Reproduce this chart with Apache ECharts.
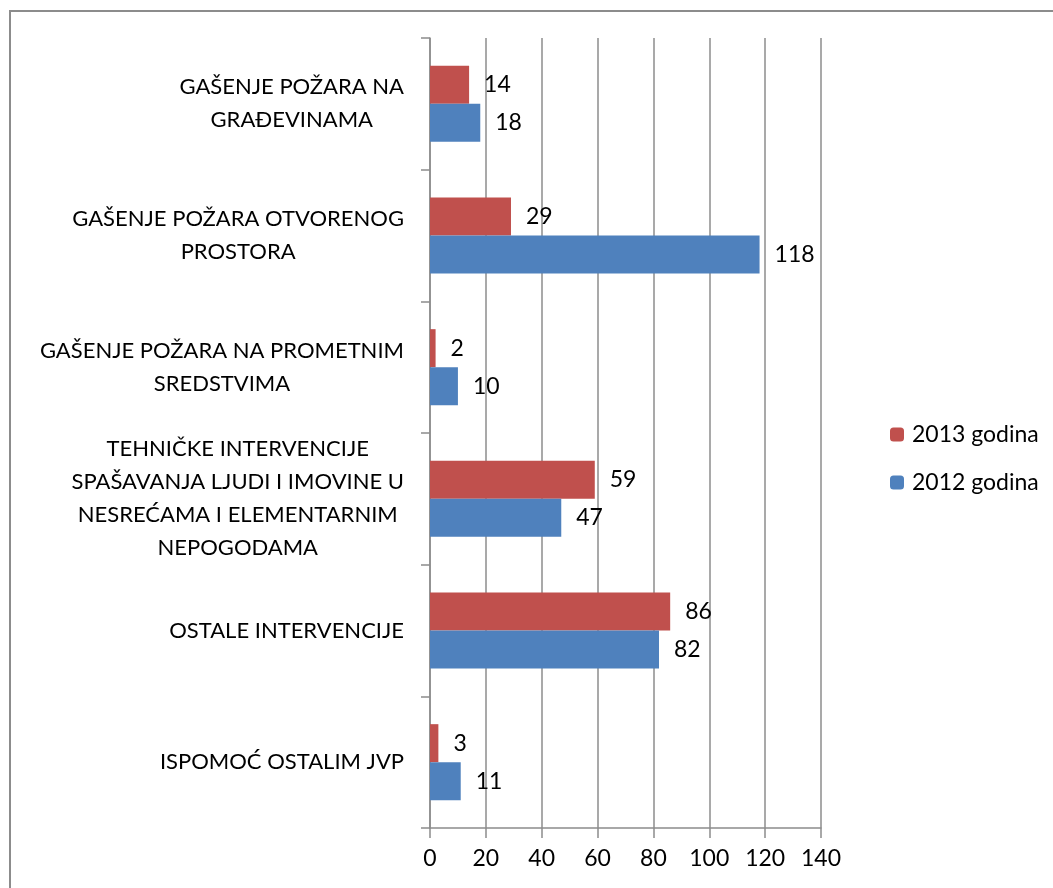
<!DOCTYPE html>
<html>
<head>
<meta charset="utf-8">
<script src="https://cdn.jsdelivr.net/npm/echarts@6/dist/echarts.min.js"></script>
<style>
html,body{margin:0;padding:0;background:#fff;}
#chart{width:1053px;height:888px;}
</style>
</head>
<body>
<div id="chart"></div>
<script>
const categories = [
  'GAŠENJE POŽARA NA\nGRAĐEVINAMA',
  'GAŠENJE POŽARA OTVORENOG\nPROSTORA',
  'GAŠENJE POŽARA NA PROMETNIM\nSREDSTVIMA',
  'TEHNIČKE INTERVENCIJE\nSPAŠAVANJA LJUDI I IMOVINE U\nNESREĆAMA I ELEMENTARNIM\nNEPOGODAMA',
  'OSTALE INTERVENCIJE',
  'ISPOMOĆ OSTALIM JVP'
];
const series2013Name = '2013 godina';
const series2012Name = '2012 godina';
const values2013 = [14, 29, 2, 59, 86, 3];
const values2012 = [18, 118, 10, 47, 82, 11];
const xTicks = { min: 0, max: 140, interval: 20 };

const FONT = 'Lato, "Open Sans", sans-serif';
const chart = echarts.init(document.getElementById('chart'));
const labelStyle = {
  show: true, position: 'right', distance: 15,
  color: '#000', fontSize: 23, fontFamily: FONT
};
chart.setOption({
  animation: false,
  textStyle: { fontFamily: FONT },
  graphic: [{
    type: 'rect', silent: true,
    shape: { x: 10, y: 11, width: 1100, height: 900 },
    style: { fill: 'none', stroke: '#8c8c8c', lineWidth: 2 }
  }],
  legend: {
    orient: 'vertical', left: 885, top: 418,
    itemWidth: 14, itemHeight: 14, itemGap: 25,
    textStyle: { fontSize: 23, color: '#000', fontFamily: FONT, padding: [0, 0, 0, 3] },
    data: [series2013Name, series2012Name]
  },
  grid: { left: 430, top: 38, right: 232, bottom: 60, containLabel: false },
  xAxis: {
    type: 'value', min: xTicks.min, max: xTicks.max, interval: xTicks.interval,
    axisLine: { show: true, lineStyle: { color: '#8c8c8c', width: 1.5 } },
    axisTick: { show: true, length: 10, lineStyle: { color: '#8c8c8c', width: 1.5 } },
    splitLine: { show: true, lineStyle: { color: '#8c8c8c', width: 1.5 } },
    axisLabel: { color: '#000', fontSize: 23, fontFamily: FONT, margin: 19 }
  },
  yAxis: {
    type: 'category', inverse: true, data: categories,
    axisLine: { show: true, lineStyle: { color: '#8c8c8c', width: 1.5 } },
    axisTick: { show: true, length: 9, lineStyle: { color: '#8c8c8c', width: 1.5 } },
    axisLabel: {
      color: '#000', fontSize: 22, fontFamily: FONT, margin: 26, lineHeight: 33,
      formatter: function (v) {
        return v.split('\n').map(function (l) { return '{c|' + l + '}'; }).join('\n');
      },
      rich: { c: { align: 'center', fontSize: 22, lineHeight: 33, color: '#000', fontFamily: FONT } }
    }
  },
  series: [
    {
      name: series2013Name, type: 'bar', data: values2013,
      barWidth: 38, barGap: '0%',
      itemStyle: { color: '#C0504D' },
      label: labelStyle
    },
    {
      name: series2012Name, type: 'bar', data: values2012,
      barWidth: 38, barGap: '0%',
      itemStyle: { color: '#4F81BD' },
      label: labelStyle
    }
  ]
});
</script>
</body>
</html>
